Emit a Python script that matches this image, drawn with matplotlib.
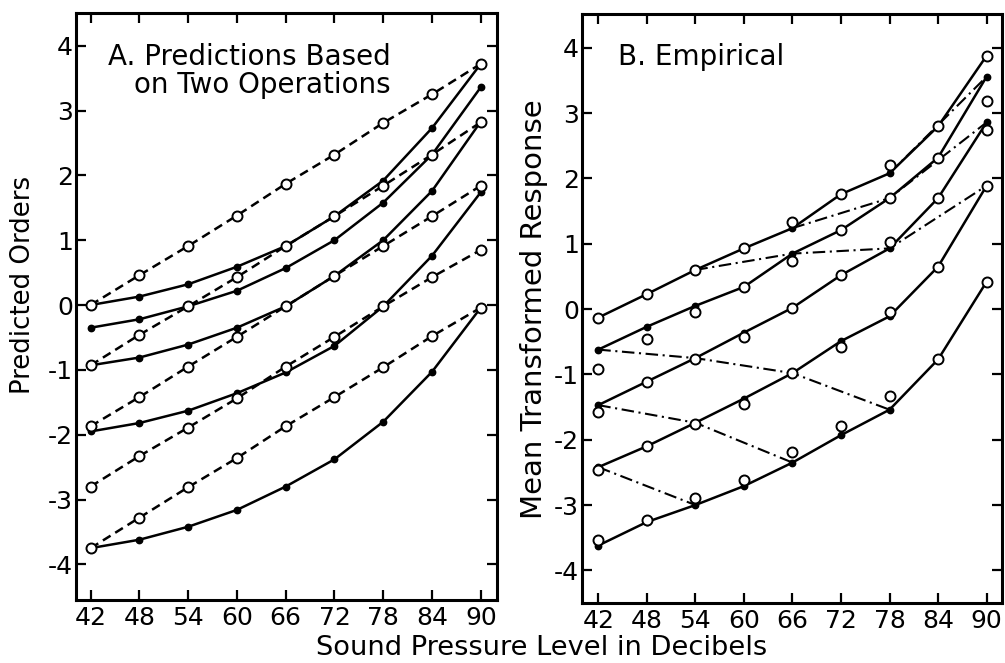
import matplotlib
matplotlib.use("Agg")
import matplotlib.pyplot as plt

plt.rcParams["font.family"] = ["DejaVu Sans"]
plt.rcParams["axes.unicode_minus"] = False

# x axis: sound pressure level (dB)
SPL = [42, 48, 54, 60, 66, 72, 78, 84, 90]
Y_TICKS = [-4, -3, -2, -1, 0, 1, 2, 3, 4]
Y_TICK_LABELS = ["-4", "-3", "-2", "-1", "0", "1", "2", "3", "4"]

# Panel A: predictions based on two operations
# dashed lines (open circles)
A_DASHED_1 = [0.00, 0.46, 0.91, 1.38, 1.87, 2.32, 2.81, 3.25, 3.72]
A_DASHED_2 = [-0.93, -0.46, -0.02, 0.43, 0.91, 1.37, 1.84, 2.32, 2.82]
A_DASHED_3 = [-1.87, -1.42, -0.95, -0.49, -0.02, 0.45, 0.91, 1.37, 1.84]
A_DASHED_4 = [-2.80, -2.33, -1.89, -1.44, -0.95, -0.49, -0.02, 0.43, 0.85]
A_DASHED_5 = [-3.75, -3.28, -2.81, -2.36, -1.87, -1.42, -0.96, -0.48, -0.04]
# solid lines (filled dots)
A_SOLID_1 = [0.00, 0.13, 0.32, 0.59, 0.91, 1.37, 1.92, 2.73, 3.72]
A_SOLID_2 = [-0.35, -0.22, -0.02, 0.22, 0.57, 1.00, 1.58, 2.32, 3.36]
A_SOLID_3 = [-0.93, -0.81, -0.61, -0.35, -0.02, 0.45, 1.00, 1.76, 2.83]
A_SOLID_4 = [-1.95, -1.82, -1.63, -1.36, -1.04, -0.63, -0.02, 0.76, 1.74]
A_SOLID_5 = [-3.75, -3.62, -3.42, -3.16, -2.80, -2.38, -1.80, -1.03, -0.04]

# Panel B: empirical
# fitted curves (solid lines, dots)
B_FIT_1 = [-0.13, 0.23, 0.60, 0.93, 1.24, 1.76, 2.08, 2.80, 3.88]
B_FIT_2 = [-0.62, -0.27, 0.05, 0.34, 0.85, 1.21, 1.70, 2.32, 3.56]
B_FIT_3 = [-1.47, -1.11, -0.75, -0.36, 0.02, 0.52, 0.93, 1.70, 2.86]
B_FIT_4 = [-2.42, -2.10, -1.74, -1.37, -0.98, -0.49, -0.11, 0.65, 1.89]
B_FIT_5 = [-3.62, -3.26, -3.00, -2.71, -2.35, -1.93, -1.54, -0.77, 0.42]
# observed mean responses (open circles)
B_OBS_1 = [-0.13, 0.23, 0.60, 0.93, 1.34, 1.76, 2.21, 2.80, 3.88]
B_OBS_2 = [-0.91, -0.46, -0.05, 0.34, 0.74, 1.21, 1.70, 2.32, 3.19]
B_OBS_3 = [-1.58, -1.11, -0.77, -0.42, 0.02, 0.52, 1.03, 1.70, 2.75]
B_OBS_4 = [-2.46, -2.10, -1.76, -1.45, -0.98, -0.58, -0.04, 0.65, 1.89]
B_OBS_5 = [-3.54, -3.23, -2.89, -2.61, -2.19, -1.79, -1.33, -0.77, 0.42]
# dash-dot paths through the fitted curves: (curve index, SPL index)
B_DASHDOT = [
    [(0, 2), (1, 4), (2, 6), (3, 8)],
    [(0, 4), (1, 6), (2, 8)],
    [(0, 6), (1, 8)],
    [(1, 0), (2, 2), (3, 4), (4, 6)],
    [(2, 0), (3, 2), (4, 4)],
    [(3, 0), (4, 2)],
]

LW = 1.8
OPEN = dict(marker="o", ms=7.2, mfc="white", mec="black", mew=1.4, zorder=4)
DOT = dict(marker="o", ms=4.6, mfc="black", mec="black", zorder=3)


def style_axes(ax, xlim, ylim):
    ax.set_xlim(*xlim)
    ax.set_ylim(*ylim)
    ax.set_xticks(SPL)
    ax.set_xticklabels([str(v) for v in SPL])
    ax.set_yticks(Y_TICKS)
    ax.set_yticklabels(Y_TICK_LABELS)
    ax.tick_params(direction="in", length=7, width=1.6, top=True, right=True,
                   labelsize=18)
    ax.tick_params(axis="x", pad=4)
    ax.tick_params(axis="y", pad=2)
    for s in ax.spines.values():
        s.set_linewidth(2.2)


def main():
    fig = plt.figure(figsize=(10.05, 6.63), dpi=100)
    ax_a = fig.add_axes([0.0756, 0.095, 0.419, 0.885])
    ax_b = fig.add_axes([0.5788, 0.0905, 0.4179, 0.8885])

    # ---- Panel A
    for ys in [A_SOLID_1, A_SOLID_2, A_SOLID_3, A_SOLID_4, A_SOLID_5]:
        ax_a.plot(SPL, ys, color="black", lw=LW, zorder=2)
        ax_a.plot(SPL, ys, ls="none", **DOT)
    for ys in [A_DASHED_1, A_DASHED_2, A_DASHED_3, A_DASHED_4, A_DASHED_5]:
        ax_a.plot(SPL, ys, color="black", lw=LW, ls=(0, (3.6, 2.2)), zorder=2)
        ax_a.plot(SPL, ys, ls="none", **OPEN)
    style_axes(ax_a, (40.2, 92.0), (-4.55, 4.5))
    ax_a.text(0.748, 0.950, "A. Predictions Based\non Two Operations",
              transform=ax_a.transAxes, ha="right", va="top", multialignment="right",
              fontsize=20, linespacing=1.0)

    # ---- Panel B
    b_fit = [B_FIT_1, B_FIT_2, B_FIT_3, B_FIT_4, B_FIT_5]
    for ys in b_fit:
        ax_b.plot(SPL, ys, color="black", lw=LW, zorder=2)
        ax_b.plot(SPL, ys, ls="none", **DOT)
    for path in B_DASHDOT:
        xs = [SPL[j] for i, j in path]
        ys = [b_fit[i][j] for i, j in path]
        ax_b.plot(xs, ys, color="black", lw=1.5, ls=(0, (6, 2.2, 1.0, 2.2)), zorder=2)
    for ys in [B_OBS_1, B_OBS_2, B_OBS_3, B_OBS_4, B_OBS_5]:
        ax_b.plot(SPL, ys, ls="none", **OPEN)
    style_axes(ax_b, (39.95, 91.86), (-4.5, 4.52))
    ax_b.text(0.087, 0.950, "B. Empirical", transform=ax_b.transAxes,
              ha="left", va="top", fontsize=20)

    # ---- shared labels
    fig.text(0.023, 0.570, "Predicted Orders", rotation=90, ha="center",
             va="center", fontsize=18.7)
    fig.text(0.531, 0.534, "Mean Transformed Response", rotation=90,
             ha="center", va="center", fontsize=21)
    fig.text(0.539, 0.022, "Sound Pressure Level in Decibels", ha="center",
             va="center", fontsize=19.6)

    fig.savefig("out.png", dpi=100)
    plt.close(fig)


if __name__ == "__main__":
    main()
